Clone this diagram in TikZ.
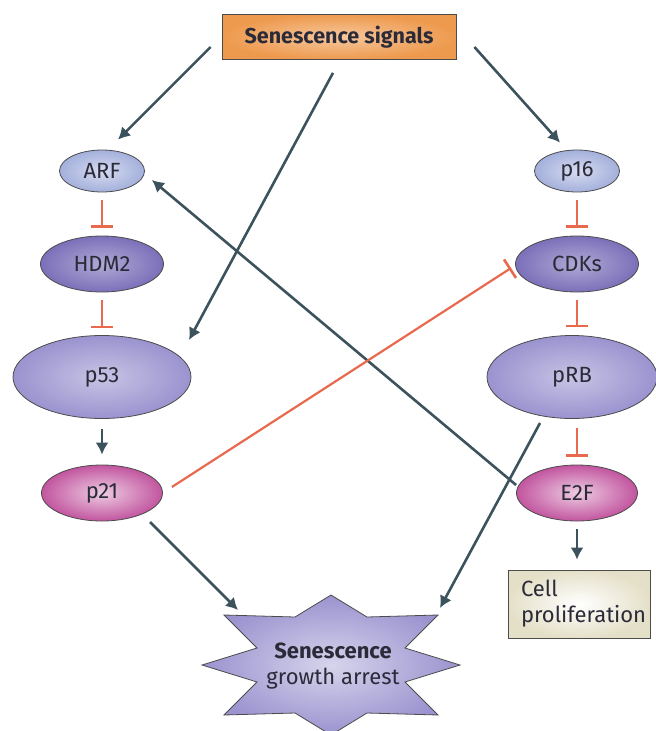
\documentclass[tikz,border=0pt]{standalone}
\usepackage{fontspec}
\setmainfont{Fira Sans}
\usetikzlibrary{calc,arrows.meta,shapes.geometric}

\definecolor{linkgray}{HTML}{3C525C}
\definecolor{inhred}{HTML}{E8694E}
\definecolor{sigorange}{HTML}{EE9A4E}
\definecolor{lightmol}{HTML}{A4B0DC}
\definecolor{darkmol}{HTML}{7B70B9}
\definecolor{midmol}{HTML}{9A93CF}
\definecolor{pinkmol}{HTML}{C2559F}
\definecolor{cellbox}{HTML}{E4E0C8}
\definecolor{txtdark}{HTML}{2A2A38}

\begin{document}
\begin{tikzpicture}[x=1pt,y=-1pt,
  font=\fontsize{22}{26}\selectfont, text=txtdark,
  mol/.style={ellipse,draw=black!70,line width=0.8pt,inner sep=0pt,shading=radial},
  molA/.style={mol,minimum width=85pt,minimum height=42pt,inner color=lightmol!45,outer color=lightmol},
  molB/.style={mol,minimum width=123pt,minimum height=56pt,inner color=darkmol!60,outer color=darkmol},
  molC/.style={mol,minimum width=178pt,minimum height=83pt,inner color=midmol!55,outer color=midmol},
  molD/.style={mol,minimum width=121pt,minimum height=56pt,inner color=pinkmol!30,outer color=pinkmol},
  act/.style={draw=linkgray,line width=2.6pt,-{Latex[length=12pt,width=13pt]}},
  inh/.style={draw=inhred,line width=2.2pt,-{Bar[width=22pt,line width=2.6pt]}}]
  \useasboundingbox (0,0) rectangle (656,731);

  % top signal box
  \node[draw=black!70,line width=0.8pt,shading=radial,inner color=sigorange!55,outer color=sigorange,
        minimum width=234pt,minimum height=45pt,font=\fontsize{21.5}{26}\selectfont\bfseries] (sig) at (339,37) {Senescence signals};

  % p53 branch
  \node[molA] (arf) at (102,171) {ARF};
  \node[molB] (hdm) at (102,264) {HDM2};
  \node[molC] (p53) at (102,377) {p53};
  \node[molD] (p21) at (102,493) {p21};

  % pRB branch
  \node[molA] (p16) at (577,171) {p16};
  \node[molB] (cdk) at (577,264) {CDKs};
  \node[molC,minimum width=170pt] (prb) at (572,377) {pRB};
  \node[molD] (e2f) at (577,493) {E2F};
  \node[draw=black!70,line width=0.8pt,shading=radial,inner color=white,outer color=cellbox,
        minimum width=142pt,minimum height=68pt,text width=116pt,align=left,inner sep=0pt] (cell) at (579,604)
        {Cell\\proliferation};

  % star
  \coordinate (st) at (331,665);
  \shade[draw=black!70,line width=0.8pt,inner color=midmol!40,outer color=midmol]
    ($(st)+(129,0)$) -- ($(st)+(74,-17)$) -- ($(st)+(107,-50)$) -- ($(st)+(36,-48)$) --
    ($(st)+(0,-70)$) -- ($(st)+(-36,-48)$) -- ($(st)+(-107,-50)$) -- ($(st)+(-74,-17)$) --
    ($(st)+(-129,0)$) -- ($(st)+(-74,17)$) -- ($(st)+(-107,50)$) -- ($(st)+(-36,48)$) --
    ($(st)+(0,70)$) -- ($(st)+(36,48)$) -- ($(st)+(107,50)$) -- ($(st)+(74,17)$) -- cycle;
  \node[align=center] (arrest) at ($(st)+(2,1)$) {\textbf{Senescence}\\growth arrest};

  % activations
  \draw[act] ($(sig.west)+(-11,10)$) -- ($(arf.north)+(16,-10)$);
  \draw[act] ($(sig.south)+(-6,13)$) -- ($(p53)+(87,-37)$);
  \draw[act] ($(sig.east)+(18,10)$) -- ($(p16.north)+(-17,-7)$);
  \draw[act] ($(e2f.west)+(0,-8)$) -- ($(arf.east)+(7,9)$);
  \draw[act] ($(p53.south)+(0,10)$) -- ($(p21.north)+(0,-10)$);
  \draw[act] ($(p21)+(48,29)$) -- ($(st)+(-93,-55)$);
  \draw[act] ($(prb)+(-32,46)$) -- ($(st)+(109,-57)$);
  \draw[act] ($(e2f.south)+(0,8)$) -- ($(e2f.south |- cell.north)+(0,-10)$);

  % inhibitions
  \draw[inh] ($(arf.south)+(0,8)$) -- ($(hdm.north)+(0,-8)$);
  \draw[inh] ($(hdm.south)+(0,8)$) -- ($(p53.north)+(0,-7)$);
  \draw[inh] ($(p16.south)+(0,8)$) -- ($(cdk.north)+(0,-8)$);
  \draw[inh] ($(cdk.south)+(0,8)$) -- ($(cdk.south |- prb.north)+(0,-8)$);
  \draw[inh] ($(e2f.north |- prb.south)+(0,9)$) -- ($(e2f.north)+(0,-8)$);
  \draw[inh] ($(p21.east)+(9,-6)$) -- ($(cdk.west)+(-4,4)$);
\end{tikzpicture}
\end{document}
